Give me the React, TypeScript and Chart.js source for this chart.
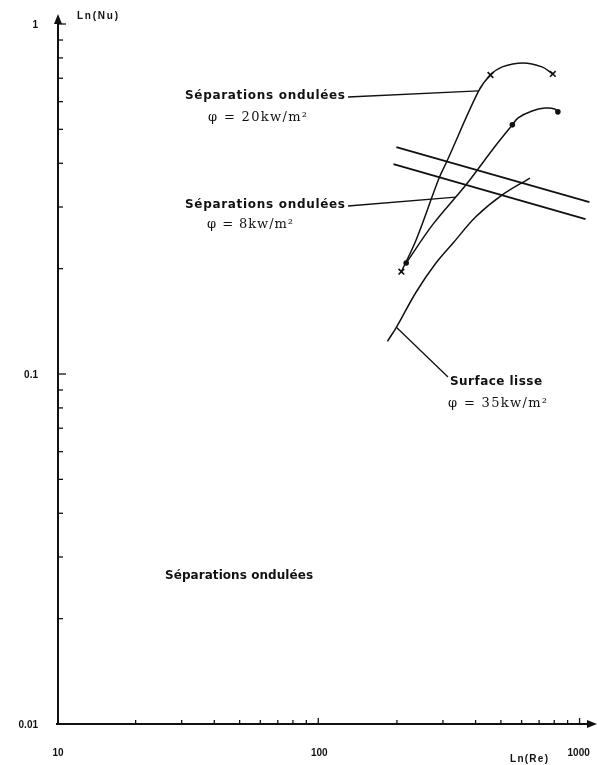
import { useEffect, useRef } from "react";
import { Chart, registerables } from "chart.js";
Chart.register(...registerables);

// Data (Re, Nu)
const sep20Re = [208, 237, 290, 311, 411, 456, 506, 608, 718, 790];
const sep20Nu = [0.196, 0.242, 0.363, 0.406, 0.644, 0.715, 0.754, 0.774, 0.754, 0.72];
const sep20Markers = [0, 5, 9];

const sep8Re = [217, 275, 367, 476, 553, 582, 658, 737, 804, 826];
const sep8Nu = [0.2075, 0.268, 0.3467, 0.448, 0.515, 0.539, 0.564, 0.575, 0.572, 0.561];
const sep8Markers = [0, 4, 9];

const lisseRe = [184, 199, 237, 282, 330, 400, 506, 646];
const lisseNu = [0.124, 0.136, 0.1715, 0.2075, 0.238, 0.281, 0.325, 0.363];

const upperRe = [199, 1091];
const upperNu = [0.445, 0.31];
const lowerRe = [194, 1054];
const lowerNu = [0.398, 0.277];

// leader anchor points on curves
const leader20 = [411, 0.644];
const leader8 = [336, 0.32];
const leaderLisse = [199, 0.136];

const xTicks = [10, 100, 1000];
const xTickLabels = ["10", "100", "1000"];
const yTicks = [0.01, 0.1, 1];
const yTickLabels = ["0.01", "0.1", "1"];
const xMinor = [20, 30, 40, 50, 60, 70, 80, 90, 200, 300, 400, 500, 600, 700, 800, 900];
const yMinor = [0.02, 0.03, 0.04, 0.05, 0.06, 0.07, 0.08, 0.09, 0.2, 0.3, 0.4, 0.5, 0.6, 0.7, 0.8, 0.9];

const xMin = 10;
const xMax = 1110;
const yMin = 0.01;
const yMax = 1;

function pts(xs: number[], ys: number[]) {
  return xs.map((x, i) => ({ x, y: ys[i] }));
}

const annFont = "bold 12px 'DejaVu Sans'";
const phiFont = "13px 'DejaVu Serif'";
const axFont = "bold 10px 'Liberation Sans'";

function fitText(ctx: CanvasRenderingContext2D, text: string, x: number, y: number, w: number) {
  (ctx as any).letterSpacing = "0px";
  const m = ctx.measureText(text).width;
  let ls = (w - m) / Math.max(1, text.length - 1);
  ls = Math.max(-1.5, Math.min(3, ls));
  (ctx as any).letterSpacing = ls.toFixed(2) + "px";
  ctx.fillText(text, x, y);
  (ctx as any).letterSpacing = "0px";
}

const axesPlugin = {
  id: "axesPlugin",
  afterDatasetsDraw(chart: any) {
    const ctx: CanvasRenderingContext2D = chart.ctx;
    const xs = chart.scales.x;
    const ys = chart.scales.y;
    const x0 = xs.getPixelForValue(xMin) + 1;
    const y0 = ys.getPixelForValue(yMin);
    ctx.save();
    ctx.strokeStyle = "#111";
    ctx.fillStyle = "#111";
    ctx.lineWidth = 2;
    // y axis
    ctx.beginPath();
    ctx.moveTo(x0, y0 + 1);
    ctx.lineTo(x0, 18);
    ctx.stroke();
    ctx.beginPath();
    ctx.moveTo(x0, 14);
    ctx.lineTo(x0 - 4, 24);
    ctx.lineTo(x0 + 4, 24);
    ctx.closePath();
    ctx.fill();
    // x axis
    ctx.beginPath();
    ctx.moveTo(x0 - 2, y0);
    ctx.lineTo(590, y0);
    ctx.stroke();
    ctx.beginPath();
    ctx.moveTo(597, y0);
    ctx.lineTo(587, y0 - 4);
    ctx.lineTo(587, y0 + 4);
    ctx.closePath();
    ctx.fill();
    // ticks
    ctx.lineWidth = 1.3;
    xMinor.forEach((v) => {
      const p = xs.getPixelForValue(v);
      ctx.beginPath();
      ctx.moveTo(p, y0);
      ctx.lineTo(p, y0 - 4);
      ctx.stroke();
    });
    xTicks.forEach((v) => {
      const p = xs.getPixelForValue(v);
      if (v === xMin) return;
      ctx.beginPath();
      ctx.moveTo(p, y0);
      ctx.lineTo(p, y0 - 6);
      ctx.stroke();
    });
    yMinor.forEach((v) => {
      const p = ys.getPixelForValue(v);
      ctx.beginPath();
      ctx.moveTo(x0, p);
      ctx.lineTo(x0 + 5, p);
      ctx.stroke();
    });
    yTicks.forEach((v) => {
      const p = ys.getPixelForValue(v);
      if (v === yMin) return;
      ctx.beginPath();
      ctx.moveTo(x0, p);
      ctx.lineTo(x0 + 8, p);
      ctx.stroke();
    });
    // tick labels
    ctx.font = axFont;
    ctx.textBaseline = "middle";
    ctx.textAlign = "center";
    xTicks.forEach((v, i) => {
      const p = xs.getPixelForValue(v);
      const lbl = xTickLabels[i];
      if (i === xTicks.length - 1) {
        ctx.textAlign = "left";
        ctx.fillText(lbl, p - 12, y0 + 29);
        ctx.textAlign = "center";
      } else {
        ctx.fillText(lbl, p + 1, y0 + 29);
      }
    });
    ctx.textAlign = "right";
    yTicks.forEach((v, i) => {
      const p = ys.getPixelForValue(v);
      ctx.fillText(yTickLabels[i], 38, p + 1);
    });
    // axis titles
    ctx.textAlign = "left";
    fitText(ctx, "Ln(Nu)", 77, 16, 41);
    fitText(ctx, "Ln(Re)", 510, y0 + 35, 38);

    // annotations
    ctx.textAlign = "left";
    ctx.textBaseline = "middle";
    ctx.font = annFont;
    fitText(ctx, "Séparations ondulées", 185, 96, 160);
    fitText(ctx, "Séparations ondulées", 185, 205, 160);
    fitText(ctx, "Surface lisse", 450, 382, 92);
    fitText(ctx, "Séparations ondulées", 165, 576, 148);
    ctx.font = phiFont;
    fitText(ctx, "φ = 20kw/m²", 208, 118, 99);
    fitText(ctx, "φ = 8kw/m²", 207, 225, 86);
    fitText(ctx, "φ = 35kw/m²", 448, 404, 99);

    // leaders
    ctx.lineWidth = 1.3;
    const lead = (sx: number, sy: number, v: number[]) => {
      ctx.beginPath();
      ctx.moveTo(sx, sy);
      ctx.lineTo(xs.getPixelForValue(v[0]), ys.getPixelForValue(v[1]));
      ctx.stroke();
    };
    lead(348, 97, leader20);
    lead(348, 206, leader8);
    lead(448, 377, leaderLisse);
    ctx.restore();
  },
};

export default function App() {
  const ref = useRef<HTMLCanvasElement>(null);
  useEffect(() => {
    if (!ref.current) return;
    const markerRadius = (idx: number[], r: number) => (c: any) => (idx.includes(c.dataIndex) ? r : 0);
    const chart = new Chart(ref.current, {
      type: "line",
      data: {
        datasets: [
          {
            label: "sep20",
            data: pts(sep20Re, sep20Nu),
            borderColor: "#111",
            borderWidth: 1.5,
            tension: 0.35,
            pointStyle: "crossRot",
            pointRadius: markerRadius(sep20Markers, 4),
            pointBorderWidth: 1.6,
            pointBorderColor: "#111",
          },
          {
            label: "sep8",
            data: pts(sep8Re, sep8Nu),
            borderColor: "#111",
            borderWidth: 1.5,
            tension: 0.35,
            pointStyle: "circle",
            pointRadius: markerRadius(sep8Markers, 2.8),
            pointBackgroundColor: "#111",
            pointBorderColor: "#111",
            pointBorderWidth: 0,
          },
          {
            label: "lisse",
            data: pts(lisseRe, lisseNu),
            borderColor: "#111",
            borderWidth: 1.5,
            tension: 0.35,
            pointRadius: 0,
          },
          {
            label: "upper",
            data: pts(upperRe, upperNu),
            borderColor: "#111",
            borderWidth: 1.8,
            pointRadius: 0,
          },
          {
            label: "lower",
            data: pts(lowerRe, lowerNu),
            borderColor: "#111",
            borderWidth: 1.8,
            pointRadius: 0,
          },
        ],
      },
      options: {
        animation: false,
        responsive: false,
        devicePixelRatio: 1,
        layout: { padding: { left: 57, right: 0, top: 24, bottom: 41 } },
        plugins: { legend: { display: false }, tooltip: { enabled: false } },
        scales: {
          x: { type: "logarithmic", min: xMin, max: xMax, display: false },
          y: { type: "logarithmic", min: yMin, max: yMax, display: false },
        },
      } as any,
      plugins: [axesPlugin],
    });
    return () => chart.destroy();
  }, []);
  return (
    <div style={{ position: "absolute", left: 0, top: 0, width: 597, height: 765, background: "#fff" }}>
      <canvas ref={ref} width={597} height={765} style={{ display: "block" }} />
    </div>
  );
}
